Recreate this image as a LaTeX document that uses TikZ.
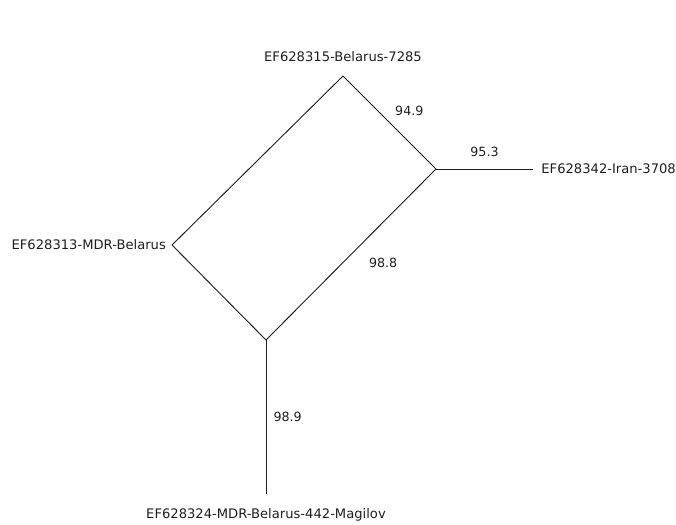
\documentclass[tikz,border=0pt]{standalone}
\usepackage{fontspec}
\setmainfont{DejaVu Sans}
\usepackage{tikz}
\usetikzlibrary{positioning}
\definecolor{ink}{HTML}{1E1E1E}
\tikzset{
  branch/.style={draw=ink, line width=0.8pt},
  taxon/.style={font=\fontsize{11.2}{13}\selectfont, text=ink, inner sep=1pt},
  support/.style={font=\fontsize{10.8}{12}\selectfont, text=ink, inner sep=1pt},
}
\begin{document}
\begin{tikzpicture}[x=0.03cm, y=-0.03cm, node distance=8pt]
  \useasboundingbox (0,0) rectangle (676,524);
  % split network vertices
  \coordinate (top) at (343,76);
  \coordinate (hub) at (436,169);
  \coordinate (low) at (266,340);
  \coordinate (left) at (172,245);
  \coordinate (iranend) at (533,169);
  \coordinate (magend) at (266,494);
  % taxa
  \node[taxon, above=11pt of top](tbel){EF628315-Belarus-7285};
  \node[taxon, right=6pt of iranend](tiran){EF628342-Iran-3708};
  \node[taxon, left=4pt of left](tmdr){EF628313-MDR-Belarus};
  \node[taxon, below=11pt of magend](tmag){EF628324-MDR-Belarus-442-Magilov};
  % edges
  \draw[branch](left)--(top);
  \draw[branch](left)--(low);
  \draw[branch](top)--node[support, right=13pt, pos=0.38](s949){94.9}(hub);
  \draw[branch](hub)--node[support, above=9pt](s953){95.3}(iranend);
  \draw[branch](hub)--node[support, below right=2pt and 14pt, pos=0.5](s988){98.8}(low);
  \draw[branch](low)--node[support, right=5pt](s989){98.9}(magend);
\end{tikzpicture}
\end{document}
